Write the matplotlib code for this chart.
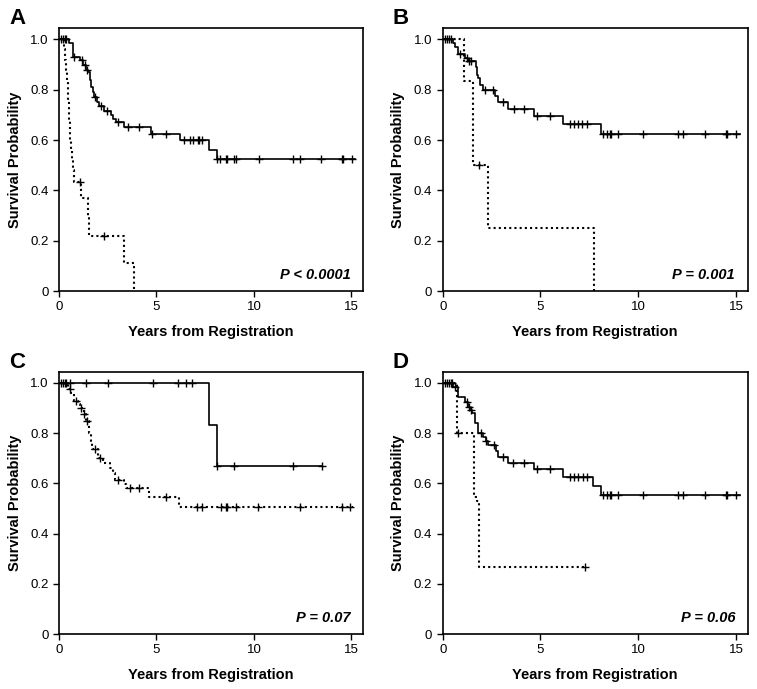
import numpy as np
import matplotlib
matplotlib.use("Agg")
import matplotlib.pyplot as plt

plt.rcParams['font.family'] = ['Liberation Sans', 'DejaVu Sans']

# ---- panel A ----
a_solid_t = [0.5, 0.72, 1.1, 1.25, 1.4, 1.5, 1.6, 1.65, 1.72, 1.8, 1.95, 2.05, 2.3, 2.65, 2.75, 2.9, 3.35, 4.7, 6.2, 7.72, 8.1]
a_solid_s = [0.985, 0.93, 0.92, 0.90, 0.88, 0.87, 0.84, 0.81, 0.79, 0.77, 0.75, 0.735, 0.715, 0.70, 0.685, 0.67, 0.65, 0.625, 0.60, 0.56, 0.525]
a_solid_c = [0.12, 0.2, 0.3, 0.38, 0.75, 1.18, 1.32, 1.41, 1.87, 2.13, 2.47, 3.03, 3.55, 4.11, 4.78, 5.49,
             6.43, 6.72, 6.89, 7.11, 7.17, 7.35, 8.13, 8.26, 8.55, 8.62, 9.0, 9.07, 10.27, 12.03, 12.38,
             13.44, 14.52, 14.59, 15.04]
a_solid_end = 15.2
a_dot_t = [0.25, 0.32, 0.38, 0.42, 0.45, 0.48, 0.5, 0.52, 0.55, 0.58, 0.62, 0.68, 0.72, 0.78, 1.12, 1.5, 1.56, 3.35, 3.87]
a_dot_s = [0.96, 0.92, 0.88, 0.84, 0.80, 0.76, 0.72, 0.68, 0.64, 0.60, 0.56, 0.52, 0.48, 0.435, 0.37, 0.29, 0.22, 0.11, 0.0]
a_dot_c = [1.06, 2.3]
a_dot_end = 3.87

# ---- panel B ----
b_solid_t = [0.51, 0.63, 0.8, 1.14, 1.3, 1.7, 1.75, 1.8, 1.91, 2.08, 2.68, 2.85, 3.36, 4.67, 6.17, 8.08]
b_solid_s = [0.985, 0.97, 0.94, 0.925, 0.915, 0.89, 0.86, 0.845, 0.82, 0.80, 0.775, 0.75, 0.725, 0.697, 0.665, 0.623]
b_solid_c = [0.12, 0.2, 0.3, 0.4, 0.89, 1.23, 1.36, 1.43, 2.18, 2.56, 3.1, 3.65, 4.16, 4.84, 5.49,
             6.51, 6.72, 6.94, 7.11, 7.36, 8.22, 8.39, 8.56, 8.61, 8.98, 10.26, 12.02, 12.31, 13.41,
             14.47, 14.54, 15.0]
b_solid_end = 15.2
b_dot_t = [1.09, 1.57, 2.3, 7.74]
b_dot_s = [0.833, 0.5, 0.25, 0.0]
b_dot_c = [1.87]
b_dot_end = 7.74

# ---- panel C ----
c_solid_t = [7.71, 8.09]
c_solid_s = [0.833, 0.667]
c_solid_c = [0.12, 0.2, 0.28, 0.36, 0.55, 1.37, 2.52, 4.83, 6.09, 6.5, 6.81, 8.13, 8.98, 12.03, 13.49]
c_solid_end = 13.49
c_dot_t = [0.46, 0.62, 0.75, 0.95, 1.1, 1.27, 1.4, 1.54, 1.62, 1.7, 2.0, 2.26, 2.6, 2.75, 2.86, 3.33, 3.46, 4.63, 6.15]
c_dot_s = [0.976, 0.96, 0.927, 0.915, 0.90, 0.875, 0.848, 0.80, 0.77, 0.735, 0.70, 0.68, 0.66, 0.64, 0.615, 0.598, 0.58, 0.545, 0.505]
c_dot_c = [0.55, 0.86, 1.15, 1.3, 1.46, 1.83, 2.09, 3.03, 3.63, 4.11, 5.47, 7.1, 7.32, 8.3, 8.57, 8.64,
           9.07, 10.23, 12.34, 14.52, 14.95]
c_dot_end = 15.1

# ---- panel D ----
d_solid_t = [0.55, 0.8, 1.14, 1.3, 1.4, 1.48, 1.65, 1.79, 2.08, 2.22, 2.34, 2.73, 2.85, 3.36, 4.67, 6.17, 7.67, 8.08]
d_solid_s = [0.983, 0.945, 0.925, 0.905, 0.89, 0.88, 0.839, 0.80, 0.785, 0.77, 0.752, 0.73, 0.705, 0.679, 0.656, 0.627, 0.588, 0.552]
d_solid_c = [0.12, 0.2, 0.3, 0.4, 0.5, 0.63, 1.26, 1.36, 1.43, 1.94, 2.22, 2.62, 3.1, 3.61, 4.16, 4.84, 5.49,
             6.51, 6.72, 6.94, 7.15, 7.4, 8.22, 8.39, 8.56, 8.61, 8.98, 10.26, 12.02, 12.31, 13.41,
             14.47, 14.54, 15.0]
d_solid_end = 15.2
d_dot_t = [0.75, 1.62, 1.77, 1.87]
d_dot_s = [0.80, 0.545, 0.53, 0.267]
d_dot_c = [0.8, 7.28]
d_dot_end = 7.28

letters = ["A", "B", "C", "D"]
pvalues = ["P < 0.0001", "P = 0.001", "P = 0.07", "P = 0.06"]

panels = [
    [(a_solid_t, a_solid_s, a_solid_c, a_solid_end), (a_dot_t, a_dot_s, a_dot_c, a_dot_end)],
    [(b_solid_t, b_solid_s, b_solid_c, b_solid_end), (b_dot_t, b_dot_s, b_dot_c, b_dot_end)],
    [(c_solid_t, c_solid_s, c_solid_c, c_solid_end), (c_dot_t, c_dot_s, c_dot_c, c_dot_end)],
    [(d_solid_t, d_solid_s, d_solid_c, d_solid_end), (d_dot_t, d_dot_s, d_dot_c, d_dot_end)],
]

positions = [
    [0.078, 0.5776, 0.4016, 0.3817],
    [0.5848, 0.5776, 0.403, 0.3817],
    [0.078, 0.0798, 0.4016, 0.381],
    [0.5848, 0.0798, 0.403, 0.381],
]


def km(ax, times, surv, cens, end, ls):
    x = np.array([0] + list(times) + ([end] if end > times[-1] else []))
    y = np.array([1.0] + list(surv) + ([surv[-1]] if end > times[-1] else []))
    if ls == "dot":
        ax.step(x, y, where="post", color="black", lw=1.5, linestyle=(0, (1, 1.5)))
    else:
        ax.step(x, y, where="post", color="black", lw=1.2)
    t_arr = np.array([0] + list(times))
    s_arr = np.array([1.0] + list(surv))
    cy = s_arr[np.searchsorted(t_arr, cens, side="right") - 1]
    ax.plot(cens, cy, linestyle="none", marker="+", color="black", markersize=5.5, mew=1.0)


fig = plt.figure(figsize=(7.57, 6.89), dpi=100)

for i in range(4):
    ax = fig.add_axes(positions[i])
    solid, dot = panels[i]
    km(ax, *solid, ls="solid")
    km(ax, *dot, ls="dot")
    ax.set_xlim(0, 15.6)
    ax.set_ylim(0, 1.045)
    ax.set_xticks([0, 5, 10, 15])
    ax.set_yticks([0, 0.2, 0.4, 0.6, 0.8, 1.0])
    ax.set_yticklabels(["0", "0.2", "0.4", "0.6", "0.8", "1.0"])
    ax.tick_params(direction="out", length=4, width=1, labelsize=9.5, top=False, right=False)
    for sp in ax.spines.values():
        sp.set_linewidth(1.2)
    ax.set_xlabel("Years from Registration", fontsize=10.5, fontweight="bold", labelpad=8)
    ax.set_ylabel("Survival Probability", fontsize=10.5, fontweight="bold", labelpad=6)
    ax.text(14.95, 0.065, pvalues[i], ha="right", va="center", fontsize=10.5,
            fontweight="bold", fontstyle="italic")
    fig.text(positions[i][0] - 0.066, positions[i][1] + positions[i][3] - 0.002, letters[i],
             fontsize=16, fontweight="bold", ha="left", va="bottom")

fig.savefig("out.png", dpi=100)
